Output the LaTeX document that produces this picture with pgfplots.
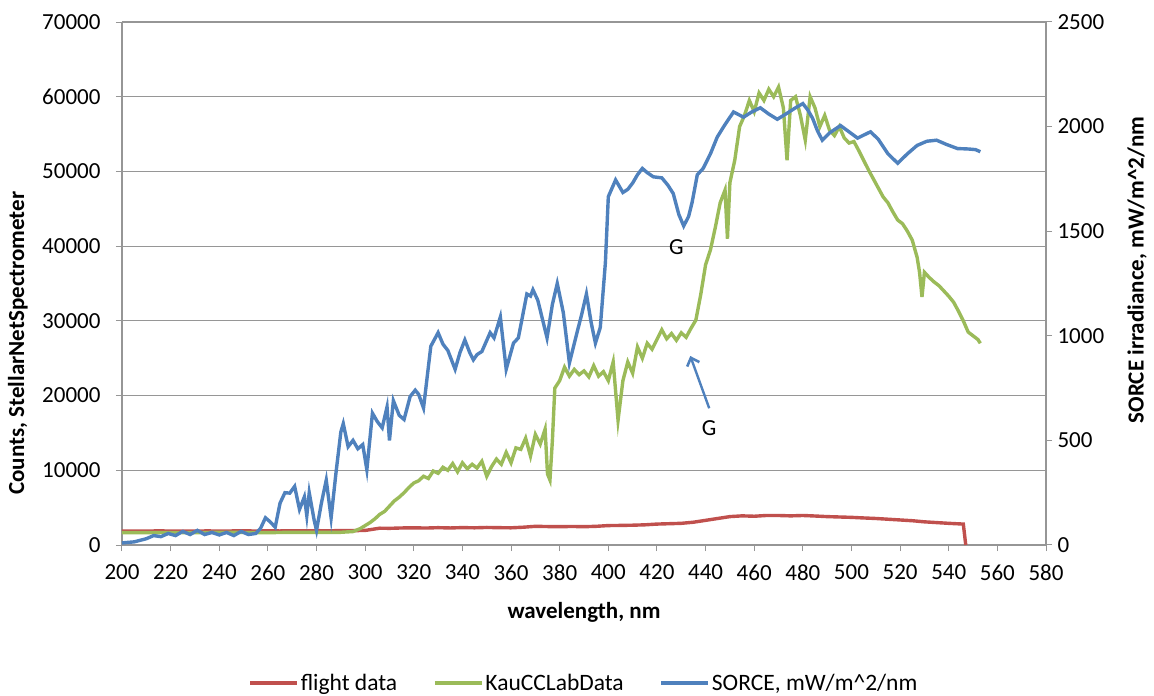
\documentclass[border=0pt]{standalone}
\usepackage{fontspec}
\setmainfont{Carlito}
\usepackage{pgfplots}
\pgfplotsset{compat=1.18}
\usetikzlibrary{arrows.meta}
\definecolor{cred}{RGB}{192,80,77}
\definecolor{cgreen}{RGB}{155,187,89}
\definecolor{cblue}{RGB}{79,129,189}
\definecolor{cgrid}{RGB}{150,150,150}
\newcommand{\chartfont}{\fontsize{23pt}{27pt}\selectfont}
\newcommand{\legfont}{\fontsize{23.5pt}{27pt}\selectfont}
\pgfplotsset{
  common/.style={
    scale only axis, width=924pt, height=523pt,
    xmin=200, xmax=580,
    at={(0,0)}, anchor=south west,
    tick align=outside,
    major tick length=6pt,
    every tick/.style={cgrid, line width=1pt},
    axis line style={cgrid, line width=1.2pt},
    ticklabel style={font=\chartfont},
    label style={font=\chartfont\bfseries},
    /pgf/number format/.cd, fixed, 1000 sep={}, assume math mode=true,
  },
}
\begin{document}
\begin{tikzpicture}[font=\chartfont]
\useasboundingbox (-122pt,-151pt) rectangle (1032pt,545pt);
\begin{axis}[common,
  ymin=0, ymax=70000, ytick distance=10000, xtick distance=20,
  scaled y ticks=false, scaled x ticks=false,
  axis x line*=bottom, axis y line*=left,
  ymajorgrids, grid style={cgrid, line width=1.2pt},
  xlabel={wavelength, nm},
  xlabel style={at={(axis description cs:0.5,-0.128)}, anchor=center},
  ylabel={Counts, StellarNetSpectrometer},
  ylabel style={at={(axis description cs:-0.1126,0.386)}, anchor=center},
  yticklabel style={xshift=-12pt},
  xticklabel style={yshift=-10pt},
  legend style={draw=none, fill=none, font=\legfont, legend columns=3,
    at={(axis description cs:0.5,-0.264)}, anchor=center,
    /tikz/every even column/.append style={column sep=34pt}},
  legend image code/.code={\draw[#1, line width=3.2pt] (0pt,0pt) -- (47pt,0pt);},
]
\addplot[cred, line width=3.4pt] coordinates {
(200,1850)(205,1880)(210,1850)(215,1900)(220,1860)(225,1880)(230,1850)(235,1890)
(240,1860)(245,1880)(250,1900)(255,1870)(260,1890)(265,1880)(270,1910)(275,1890)
(280,1920)(285,1900)(290,1930)(295,1920)(300,1950)(303,2100)(306,2250)(310,2230)
(315,2280)(320,2300)(325,2270)(330,2320)(335,2280)(340,2330)(345,2300)(350,2350)
(355,2320)(360,2300)(365,2380)(370,2500)(375,2470)(380,2450)(385,2480)(390,2450)
(395,2500)(400,2600)(405,2620)(410,2650)(415,2700)(420,2800)(425,2850)(430,2900)
(435,3050)(440,3300)(445,3550)(450,3800)(455,3900)(460,3850)(465,3950)(470,3950)
(475,3900)(480,3950)(485,3880)(490,3800)(495,3750)(500,3700)(505,3620)(510,3550)
(515,3450)(520,3350)(525,3250)(530,3100)(535,3000)(540,2900)(546,2800)(547,0)
};
\addlegendentry{flight data}
\addplot[cgreen, line width=3.4pt] coordinates {
(200,1650)(210,1650)(220,1680)(230,1650)(240,1700)(250,1680)(260,1650)(270,1700)
(280,1700)(290,1700)(295,1800)(298,2200)(300,2600)(302,3000)(304,3500)(306,4100)
(308,4500)(310,5200)(312,5900)(314,6400)(316,7000)(318,7700)(320,8300)(322,8600)
(324,9200)(326,8900)(328,9900)(330,9600)(332,10400)(334,10000)(336,10900)(338,9800)
(340,11000)(342,10200)(344,10800)(346,10300)(348,11200)(350,9200)(352,10500)(354,11500)
(356,10800)(358,12400)(360,11000)(362,13000)(364,12800)(366,14300)(368,11900)(370,14800)
(372,13500)(374,15500)(375,9500)(376,8700)(377,14000)(378,21000)(380,22000)(382,23800)
(384,22600)(386,23500)(388,22800)(390,23300)(392,22500)(394,24000)(396,22600)(398,23200)
(400,22000)(402,24500)(404,16700)(406,22000)(408,24500)(410,23000)(412,26500)(414,25000)
(416,27000)(418,26200)(420,27500)(422,28800)(424,27600)(426,28300)(428,27400)(430,28400)
(432,27800)(434,29000)(436,30100)(438,33500)(440,37500)(442,39500)(444,42500)(446,45800)
(448,47500)(449,41000)(450,48500)(452,51500)(454,56000)(456,57500)(458,59500)(460,58000)
(462,60500)(464,59500)(466,61000)(468,60000)(470,61300)(472,58500)(473.5,51500)(475,59500)
(477,60000)(479,57500)(481,54200)(483,60000)(485,58500)(487,56000)(489,57500)(491,55500)
(493,54800)(495,56000)(497,54500)(499,53800)(501,54000)(503,52800)(505,51500)(507,50200)
(509,49000)(511,47800)(513,46600)(515,45800)(517,44600)(519,43500)(521,43000)(523,42000)
(525,40800)(527,38500)(528,36500)(529,33200)(530,36500)(532,35800)(534,35200)(536,34700)
(538,34000)(540,33300)(542,32500)(544,31300)(546,30000)(548,28500)(550,28000)(552,27500)
(553,27000)
};
\addlegendentry{KauCCLabData}
\addlegendimage{cblue, line width=3.2pt}
\addlegendentry{SORCE, mW/m\textasciicircum 2/nm}
\node[font=\chartfont] at (axis cs:428,39900) {G};
\node[font=\chartfont] at (axis cs:441.5,15660) {G};
\draw[cblue, line width=2.4pt, -{Straight Barb[length=7pt,width=13pt,line width=2.6pt]}] (axis cs:441.5,18300) -- (axis cs:433.7,25300);
\end{axis}
\begin{axis}[common,
  ymin=0, ymax=2500, ytick distance=500,
  axis y line*=right, axis x line=none,
  ylabel={SORCE irradiance, mW/m\textasciicircum 2/nm},
  ylabel style={at={(axis description cs:1.0985,0.526)}, anchor=center, rotate=0},
  yticklabel style={xshift=2pt},
]
\addplot[cblue, line width=3.4pt] coordinates {
(200,10)(205,15)(210,30)(213,45)(216,40)(219,55)(222,45)(225,65)(228,50)(231,70)
(234,50)(237,60)(240,48)(243,60)(246,45)(249,65)(252,50)(255,55)(257,80)(259,130)
(261,110)(263,85)(265,200)(267,250)(269,248)(271,280)(273,170)(275,230)(276,140)(277,250)
(279,120)(280,70)(282,200)(284,310)(286,130)(288,345)(290,540)(291,580)(293,470)(295,500)
(297,460)(299,480)(300.7,360)(303,630)(305,590)(307,560)(309,660)(310,500)(311.6,690)(314,620)
(316,600)(318.5,710)(320.6,740)(322,720)(324,655)(327,950)(330,1015)(332,960)(334,930)(337,840)
(339,920)(341,980)(343,920)(344.5,885)(346,910)(348,925)(351.4,1015)(353,990)(355.6,1090)(358,840)
(361,965)(363,990)(366.5,1200)(368,1190)(369,1220)(371,1170)(374.8,990)(377,1150)(379,1250)(381.5,1110)
(384,870)(387,1010)(389,1100)(391,1200)(393,1060)(394.7,965)(396.7,1040)(398.8,1350)(400,1665)(403,1745)
(406,1685)(408,1700)(410,1730)(412,1770)(414,1800)(416,1780)(418.5,1760)(422,1755)(424.5,1720)(426.7,1680)
(429,1580)(431,1525)(433,1570)(434.5,1640)(436.6,1770)(439,1800)(442,1870)(444.8,1950)(448,2010)(451.5,2070)
(455.6,2045)(459,2070)(462.5,2090)(466,2060)(469.5,2035)(473,2060)(477,2090)(480,2110)(482,2080)(484,2040)
(486,1980)(488,1935)(491,1970)(495.5,2005)(499,1975)(502.5,1945)(507.8,1975)(511,1940)(515,1870)(519,1825)
(523,1870)(527,1910)(531,1930)(535,1935)(539,1915)(543.6,1895)(548,1893)(551,1890)(553,1880)
};
\end{axis}
\end{tikzpicture}
\end{document}
